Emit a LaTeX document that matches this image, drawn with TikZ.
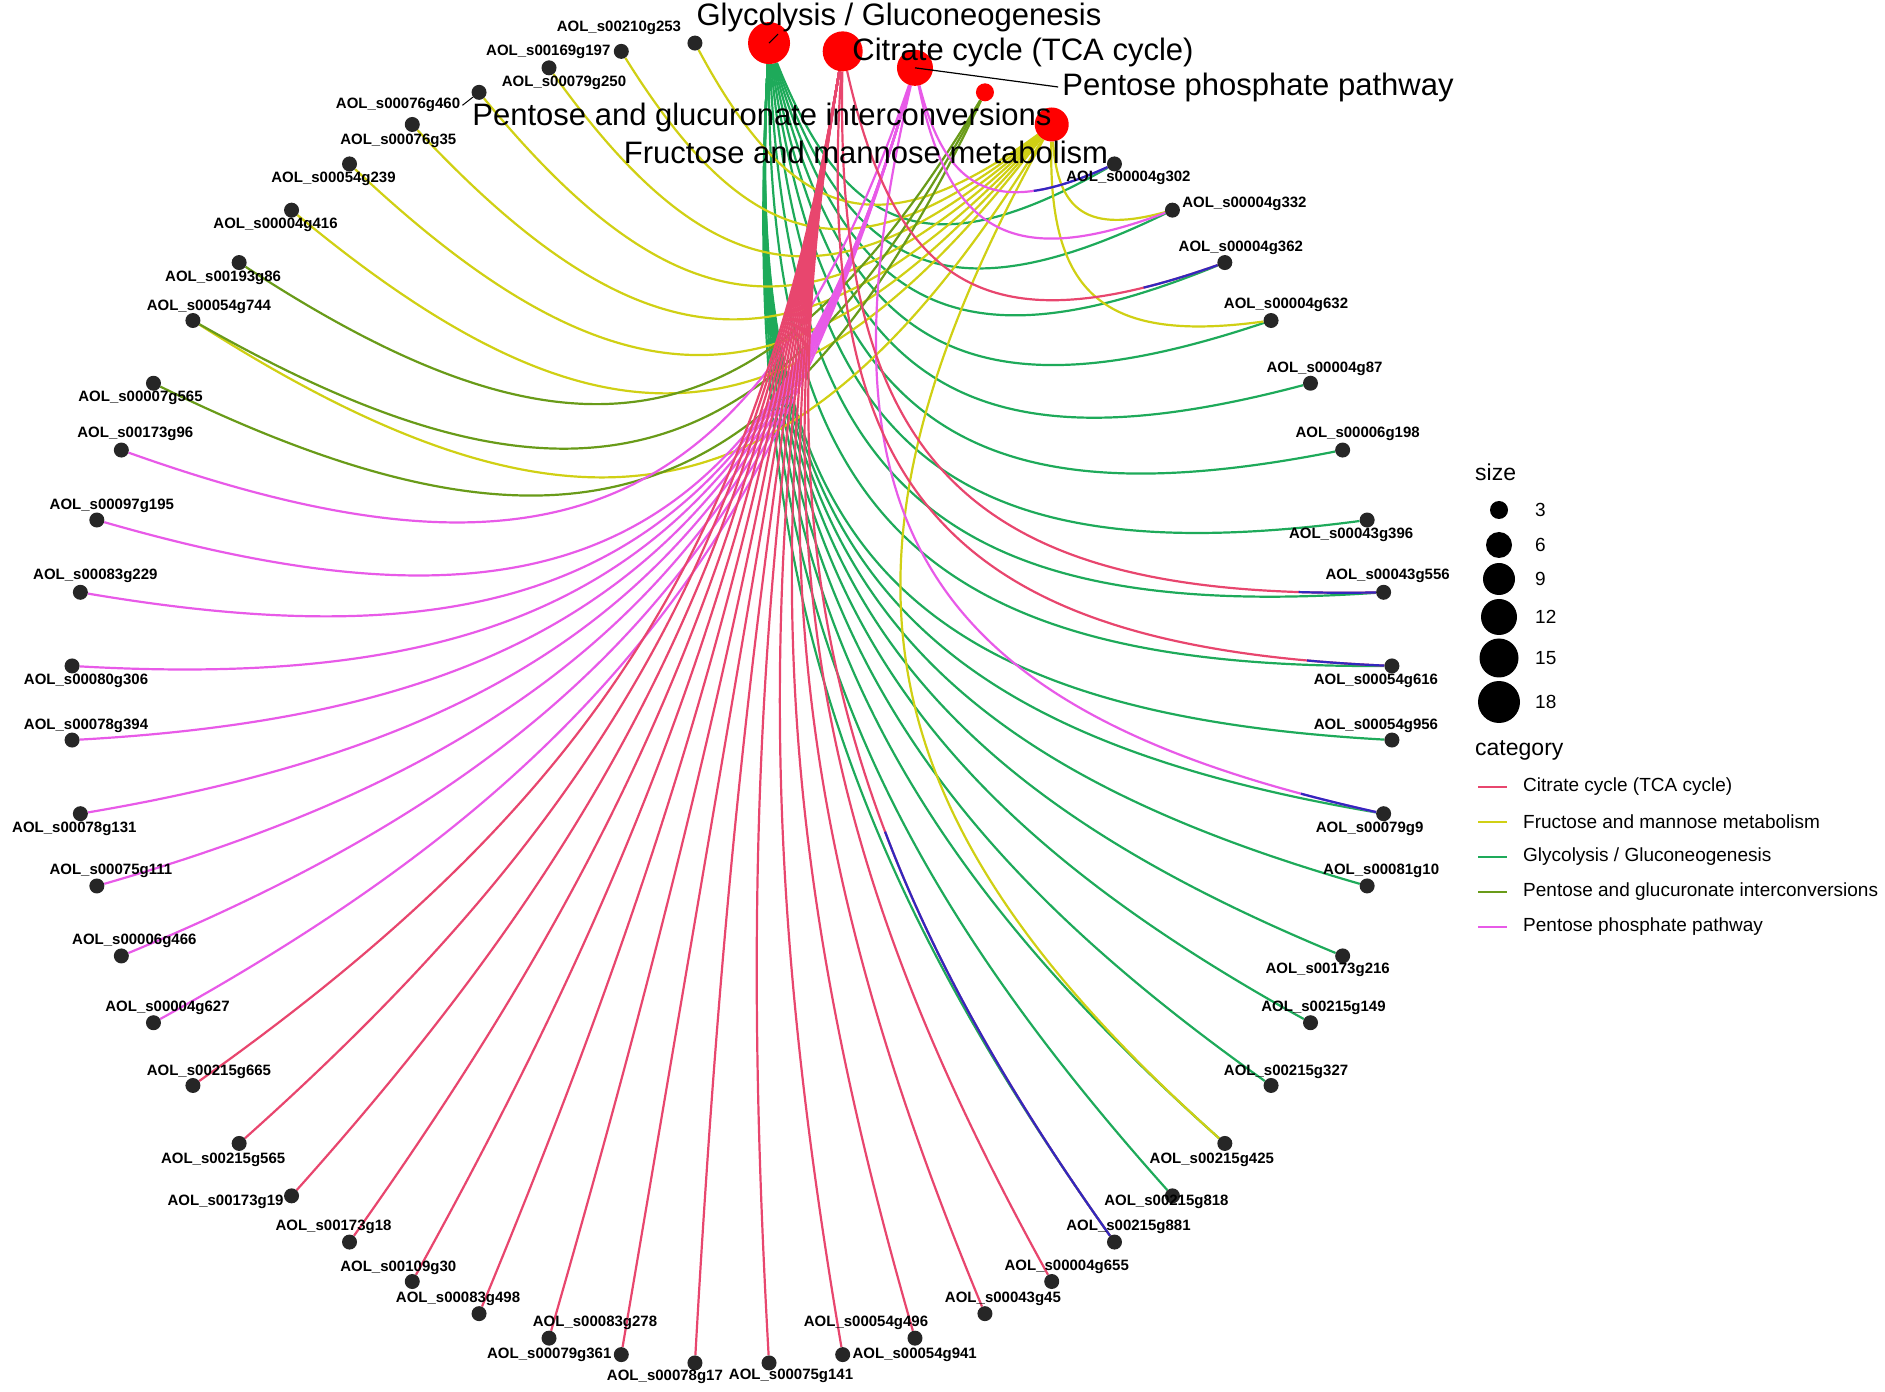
\documentclass[tikz,border=0pt]{standalone}
\usepackage{fontspec}
\setmainfont{Liberation Sans}
\usepackage{tikz}
\usetikzlibrary{calc,positioning,backgrounds}
\definecolor{tcacol}{RGB}{232,70,110}
\definecolor{fmmcol}{RGB}{208,208,20}
\definecolor{glycol}{RGB}{30,170,90}
\definecolor{pgicol}{RGB}{105,155,25}
\definecolor{pppcol}{RGB}{232,90,232}
\definecolor{mixcol}{RGB}{50,40,190}
\definecolor{genecol}{RGB}{38,38,38}
\tikzset{
  gene/.style={circle, fill=genecol, inner sep=0pt, minimum size=15pt},
  pathway/.style={circle, fill=red, inner sep=0pt},
  genelabel/.style={font=\fontsize{15}{17}\selectfont\bfseries, inner sep=0pt},
  pathlabel/.style={font=\fontsize{31}{36}\selectfont, inner sep=0pt},
  legendtitle/.style={font=\fontsize{23}{26}\selectfont, anchor=west, inner sep=0pt},
  legendtext/.style={font=\fontsize{19}{22}\selectfont, anchor=west, inner sep=0pt},
  arcedge/.style={line width=2.2pt},
}
% gene index, pathway node, pathway angle, colour
\newcommand{\cnetarc}[4]{%
  \pgfmathsetmacro{\ga}{93.214+6.4286*#1}%
  \pgfmathsetmacro{\sd}{mod(\ga-#3+540,360)-180}%
  \pgfmathsetmacro{\bis}{#3+\sd/2}%
  \pgfmathsetmacro{\rc}{max(0,1-abs(\sd)/90)*661}%
  \draw[arcedge, #4] (g#1) .. controls ($(g#1)!0.75!(\bis:\rc)$) and ($(#2)!0.75!(\bis:\rc)$) .. (#2);
}
\begin{document}
\begin{tikzpicture}[x=1pt, y=1pt]
    \useasboundingbox (-732,-689) rectangle (1153,703);

    % pathway nodes
    \node[pathway, minimum size=42pt] (glyco) at (86.786:661) {};
    \node[pathway, minimum size=40pt] (citrate) at (80.357:661) {};
    \node[pathway, minimum size=36pt] (ppp) at (73.929:661) {};
    \node[pathway, minimum size=18pt] (pgi) at (67.5:661) {};
    \node[pathway, minimum size=34pt] (fmm) at (61.071:661) {};

    % gene nodes round the circle
    \foreach \gname/\ldx/\ldy [count=\k from 0] in {
      s00210g253/-76/15, s00169g197/-73/0, s00079g250/15/-15, s00076g460/-81/-13,
      s00076g35/-14/-16, s00054g239/-16/-15, s00004g416/-16/-15, s00193g86/-16/-15,
      s00054g744/16/14, s00007g565/-13/-15, s00173g96/14/16, s00097g195/15/14,
      s00083g229/15/16, s00080g306/14/-15, s00078g394/14/14, s00078g131/-6/-15,
      s00075g111/14/15, s00006g466/13/15, s00004g627/14/15, s00215g665/16/14,
      s00215g565/-16/-16, s00173g19/-66/-6, s00173g18/-16/15, s00109g30/-14/14,
      s00083g498/-21/15, s00083g278/46/15, s00079g361/-72/0, s00078g17/-30/-14,
      s00075g141/22/-13, s00054g941/72/0, s00054g496/-49/15, s00043g45/18/15,
      s00004g655/15/15, s00215g881/14/15, s00215g818/-6/-6, s00215g425/-13/-16,
      s00215g327/15/14, s00215g149/13/15, s00173g216/-15/-14, s00081g10/14/15,
      s00079g9/-14/-15, s00054g956/-16/14, s00054g616/-16/-15, s00043g556/4/16,
      s00043g396/-16/-15, s00006g198/15/16, s00004g87/14/14, s00004g632/15/16,
      s00004g362/16/15, s00004g332/72/6, s00004g302/14/-14} {
      \pgfmathsetmacro{\ang}{93.214+6.4286*\k}
      \node[gene] (g\k) at (\ang:661) {};
      \node[genelabel] (l\k) at ($(g\k)+(\ldx,\ldy)$) {AOL\_\gname};
    }

    \begin{pgfonlayer}{background}
      \foreach \k in {33,34,35,36,37,38,39,40,41,42,43,44,45,46,47,48,49,50}
        {\cnetarc{\k}{glyco}{86.786}{glycol}}
      \foreach \k in {0,1,2,3,4,5,6,8,35,47,49}
        {\cnetarc{\k}{fmm}{61.071}{fmmcol}}
      \foreach \k in {7,8,9}
        {\cnetarc{\k}{pgi}{67.5}{pgicol}}
      \foreach \k in {10,11,12,13,14,15,16,17,18,40,49,50}
        {\cnetarc{\k}{ppp}{73.929}{pppcol}}
      \foreach \k in {19,20,21,22,23,24,25,26,27,28,29,30,31,32,33,42,43,48}
        {\cnetarc{\k}{citrate}{80.357}{tcacol}}
      % dark overlap near some genes
      \begin{scope}
        \clip (g33) circle (470);
        \cnetarc{33}{citrate}{80.357}{mixcol}
      \end{scope}
      \foreach \k/\hub/\hang in {40/ppp/73.929,42/citrate/80.357,43/citrate/80.357,48/citrate/80.357,50/ppp/73.929} {
        \begin{scope}
          \clip (g\k) circle (85);
          \cnetarc{\k}{\hub}{\hang}{mixcol}
        \end{scope}
      }
    \end{pgfonlayer}

    % pathway labels
    \node[pathlabel] (glycolab) at (167,686) {Glycolysis / Gluconeogenesis};
    \node[pathlabel] (citratelab) at (291,651) {Citrate cycle (TCA cycle)};
    \node[pathlabel] (ppplab) at (526,616) {Pentose phosphate pathway};
    \node[pathlabel] (pgilab) at (30,586) {Pentose and glucuronate interconversions};
    \node[pathlabel] (fmmlab) at (134,551) {Fructose and mannose metabolism};
    \draw[line width=1.2pt] (ppp.center) -- ([xshift=-4pt]ppplab.west);
    \draw[line width=1.2pt] (glyco.center) -- ++(9,9);
    \draw[line width=1pt] ([xshift=2pt]l3.east) -- (g3);

    % legend
    \node[legendtitle] (sizetitle) at (743,231) {size};
    \foreach \s/\d/\y in {3/18/193, 6/26/158, 9/32/124, 12/36/86, 15/39/45, 18/42/1} {
      \node[circle, fill=black, inner sep=0pt, minimum size=\d pt] (sz\s) at (767,\y) {};
      \node[legendtext] (szl\s) at (803,\y) {\s};
    }
    \node[legendtitle] (cattitle) at (743,-47) {category};
    \foreach \col/\txt/\y in {tcacol/{Citrate cycle (TCA cycle)}/-84,
      fmmcol/{Fructose and mannose metabolism}/-119,
      glycol/{Glycolysis / Gluconeogenesis}/-154,
      pgicol/{Pentose and glucuronate interconversions}/-189,
      pppcol/{Pentose phosphate pathway}/-224} {
      \draw[\col, line width=2.5pt] (746,\y) -- (775,\y);
      \node[legendtext] at (791,\y) {\txt};
    }
\end{tikzpicture}
\end{document}
